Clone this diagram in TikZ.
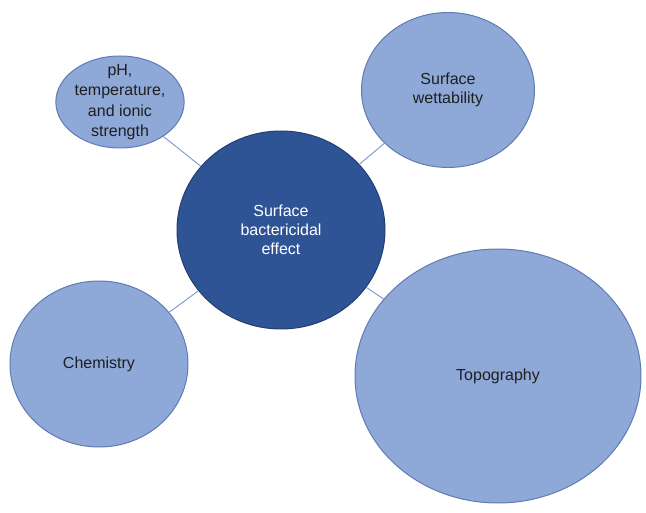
\documentclass[tikz,border=0pt]{standalone}
\usepackage{fontspec}
\setmainfont{Liberation Sans}
\usetikzlibrary{shapes.geometric}

\definecolor{bubblefill}{RGB}{142,168,216}
\definecolor{bubbleedge}{RGB}{95,123,178}
\definecolor{corefill}{RGB}{46,84,150}
\definecolor{coreedge}{RGB}{36,62,112}
\definecolor{linkcol}{RGB}{122,150,203}

\tikzset{
    bubble/.style={ellipse, draw=bubbleedge, line width=1pt, fill=bubblefill,
        inner sep=0pt, align=center, text=black!88,
        font=\fontsize{16}{19}\selectfont},
    core/.style={bubble, draw=coreedge, fill=corefill, text=white},
    link/.style={draw=linkcol, line width=0.9pt}
}

\begin{document}
\begin{tikzpicture}[x=1pt, y=1pt]
            \useasboundingbox (0,0) rectangle (646,-513);
            % 节点
            \node (effect) [core, minimum width=208pt, minimum height=198pt] at (281,-230) {Surface\\bactericidal\\effect};
            \node (ph) [bubble, minimum width=128pt, minimum height=92pt, inner ysep=-9pt, font=\fontsize{16}{20.5}\selectfont] at (120,-102) {pH,\\temperature,\\and ionic\\strength};
            \node (wet) [bubble, minimum width=173pt, minimum height=155pt] at (448,-90) {Surface\\wettability};
            \node (chem) [bubble, minimum width=178pt, minimum height=166pt] at (99,-364) {Chemistry};
            \node (topo) [bubble, minimum width=286pt, minimum height=254pt] at (498,-376) {Topography};
            % 连线
            \draw[link] (effect) -- (ph);
            \draw[link] (effect) -- (wet);
            \draw[link] (effect) -- (chem);
            \draw[link] (effect) -- (topo);
        \end{tikzpicture}
\end{document}
